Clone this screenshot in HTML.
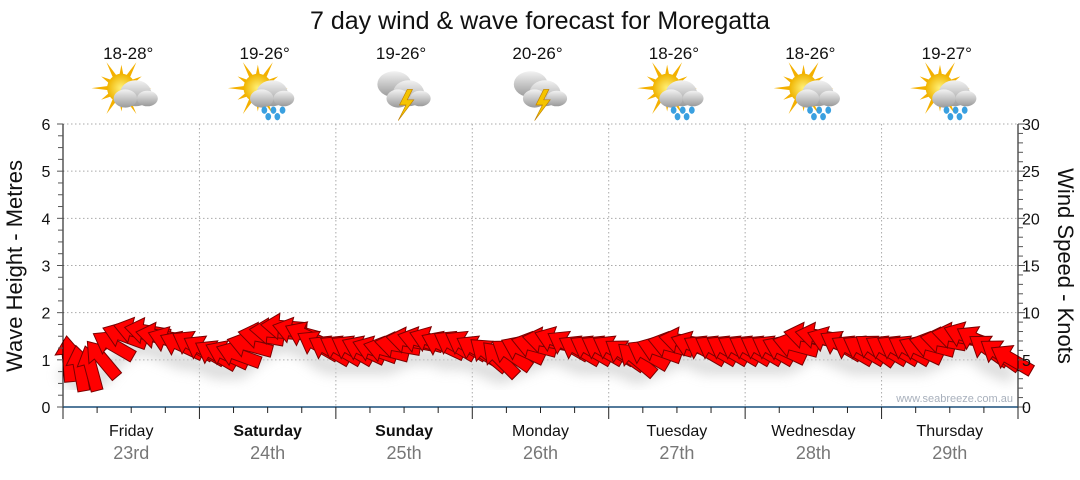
<!DOCTYPE html>
<html><head><meta charset="utf-8"><style>
body{margin:0;background:#fff;width:1080px;height:475px;overflow:hidden}
svg{font-family:"Liberation Sans",sans-serif}
</style></head><body>
<svg id="c" width="1080" height="475">
<defs>
<radialGradient id="sun" cx="0.5" cy="0.5" r="0.5"><stop offset="0" stop-color="#fff27a"/><stop offset="1" stop-color="#f0b400"/></radialGradient>
<linearGradient id="cloud" x1="0" y1="0" x2="0" y2="1"><stop offset="0" stop-color="#f2f2f2"/><stop offset="1" stop-color="#9a9a9a"/></linearGradient>
<filter id="blur"><feGaussianBlur stdDeviation="6"/></filter>
</defs>
<text x="540" y="29" text-anchor="middle" font-size="25" fill="#111">7 day wind &amp; wave forecast for Moregatta</text>
<g id="grid"></g><g id="icons"></g><g id="shadow"></g><g id="marks"></g><g id="axes"></g>
<text x="1013" y="402" text-anchor="end" font-size="11" fill="#a8b0bc">www.seabreeze.com.au</text>
<text transform="translate(22,266) rotate(-90)" text-anchor="middle" font-size="22" fill="#111">Wave Height - Metres</text>
<text transform="translate(1058,266) rotate(90)" text-anchor="middle" font-size="22" fill="#111">Wind Speed - Knots</text>
</svg>
<script>
const days=["Friday","Saturday","Sunday","Monday","Tuesday","Wednesday","Thursday"];
const dates=["23rd","24th","25th","26th","27th","28th","29th"];
const boldDays=[false,true,true,false,false,false,false];
const temps=["18-28°","19-26°","19-26°","20-26°","18-26°","18-26°","19-27°"];
const weather=["cloud","rain","storm","storm","rain","rain","rain"];
const waveTicks=[0,1,2,3,4,5,6];
const windTicks=[0,5,10,15,20,25,30];
const windSpeed=[5,4,4,5,6.5,7.5,8,8,7.5,7,6.5,6.5, 6,5.5,5.5,5.5,6.5,7.5,8,8.5,8,7.5,6.5,6, 6,6,6,6,6,6.5,7,7,7,6.5,6.5,6.5, 6,5.5,5,5.5,6,6.5,7,7,6.5,6,6,6, 6,5.5,5,5.5,6,6.5,7,6.5,6,6,6,6, 6,6,6,6,6.5,7.5,7.5,7,6.5,6,6,6, 6,6,6,6,6.5,7,7.5,7.5,7,6,5.5,5];
const windDir=[355,350,345,320,300,290,285,280,280,290,295,300, 300,300,295,290,285,280,275,275,285,295,300,300, 300,300,295,290,285,280,280,285,290,295,300,300, 300,310,315,305,295,285,280,290,300,300,300,300, 300,305,310,300,290,285,280,290,300,300,300,300, 300,300,300,295,285,280,280,290,300,300,300,305, 300,300,300,295,285,280,280,290,300,305,305,300];
const NS="http://www.w3.org/2000/svg";
const X0=63,X1=1018,Y0=407,Y1=124,DW=(X1-X0)/7;
const yW=v=>Y0-(Y0-Y1)*v/6, yK=v=>Y0-(Y0-Y1)*v/30, xT=h=>X0+DW*h/24;
function mk(p,t,a){const e=document.createElementNS(NS,t);for(const k in a)e.setAttribute(k,a[k]);document.getElementById(p).appendChild(e);return e;}
waveTicks.forEach(v=>{if(v>0){const l=mk('grid','line',{x1:X0,x2:X1,y1:yW(v),y2:yW(v),stroke:'#aaa','stroke-dasharray':'1.5,2.5'});

}});
for(let d=1;d<7;d++){const l=mk('grid','line',{x1:X0+DW*d,x2:X0+DW*d,y1:Y1,y2:Y0,stroke:'#aaa','stroke-dasharray':'1.5,2.5'});

}
mk('axes','line',{x1:X0,x2:X0,y1:Y1,y2:Y0+6,stroke:'#000'});
mk('axes','line',{x1:X1,x2:X1,y1:Y1,y2:Y0,stroke:'#000'});
mk('axes','line',{x1:X0,x2:X1,y1:Y0,y2:Y0,stroke:'#1a4f7a','stroke-width':1.5});
for(let i=0;i<=24;i++){const v=i/4,y=yW(v);mk('axes','line',{x1:X0-(i%4?5:6),x2:X0,y1:y,y2:y,stroke:'#555'});}
waveTicks.forEach(v=>{const t=mk('axes','text',{x:46,y:yW(v)+6,'text-anchor':'middle','font-size':16,fill:'#111'});t.textContent=v;

});
for(let k=0;k<=30;k++){const y=yK(k);mk('axes','line',{x1:X1,x2:X1+(k%5?5:7),y1:y,y2:y,stroke:'#555'});}
windTicks.forEach(v=>{const t=mk('axes','text',{x:1022,y:yK(v)+6,'font-size':16,fill:'#111'});t.textContent=v;

});
for(let h=0;h<=168;h+=6){const x=xT(h);mk('axes','line',{x1:x,x2:x,y1:Y0,y2:Y0+(h%24?6:12),stroke:'#222'});}
days.forEach((d,i)=>{const cx=X0+DW*(i+0.5);
const t=mk('axes','text',{x:cx,y:436,'text-anchor':'middle','font-size':16,fill:'#111','font-weight':boldDays[i]?'bold':'normal'});t.textContent=d;


const t2=mk('axes','text',{x:cx,y:459,'text-anchor':'middle','font-size':18,fill:'#777'});t2.textContent=dates[i];


const t3=mk('icons','text',{x:cx-3,y:59,'text-anchor':'middle','font-size':17,fill:'#111'});t3.textContent=temps[i];


const g=mk('icons','g',{transform:`translate(${cx-2},92) scale(1.3)`});


const w=weather[i];
if(w!=='storm'){let r='';for(let a=0;a<360;a+=30){const rad=a*Math.PI/180,L=a%60?18:23;r+=`<polygon points="${-6+Math.cos(rad)*L},${-3+Math.sin(rad)*L} ${-6+Math.cos(rad+0.2)*9},${-3+Math.sin(rad+0.2)*9} ${-6+Math.cos(rad-0.2)*9},${-3+Math.sin(rad-0.2)*9}" fill="#f4b000"/>`;}
g.innerHTML=r+`<circle cx="-6" cy="-3" r="11" fill="url(#sun)"/>`;}
let cl=w==='storm'?`<g><ellipse cx="-6" cy="-6" rx="13" ry="10" fill="url(#cloud)"/></g>`:'';
cl+=`<ellipse cx="5" cy="1" rx="12" ry="10" fill="url(#cloud)"/><ellipse cx="-3" cy="5" rx="9" ry="7" fill="url(#cloud)"/><ellipse cx="14" cy="5" rx="8" ry="6" fill="url(#cloud)"/>`;
if(w==='rain')cl+=[[-1,14],[6,14],[13,14],[2,19],[9,19]].map(p=>`<ellipse cx="${p[0]}" cy="${p[1]}" rx="2.2" ry="2.8" fill="#3aa0e0"/>`).join('');
if(w==='storm')cl+=`<polygon points="4,-2 -2,10 3,10 -3,22 9,6 4,6 8,-2" fill="#f5c400" stroke="#c08000" stroke-width="0.5"/>`;
g.innerHTML+=cl;
});
let sp=`M${X0},${yK(windSpeed[0])+10}`;windSpeed.forEach((v,i)=>{sp+=` L${xT(i*2+1)},${yK(v)+16}`;});
mk('shadow','path',{d:sp,stroke:'#ccc','stroke-width':16,fill:'none',filter:'url(#blur)',opacity:0.7});
windSpeed.forEach((v,i)=>{const x=xT(i*2+1),y=yK(v),a=windDir[i]-90;
const p=mk('marks','polygon',{points:"-22,-6 6,-6 6,-13 24,0 6,13 6,6 -22,6",transform:`translate(${x},${y}) rotate(${a})`,fill:'#f00',stroke:'#7a0000','stroke-width':1});

});
</script>
</body></html>
